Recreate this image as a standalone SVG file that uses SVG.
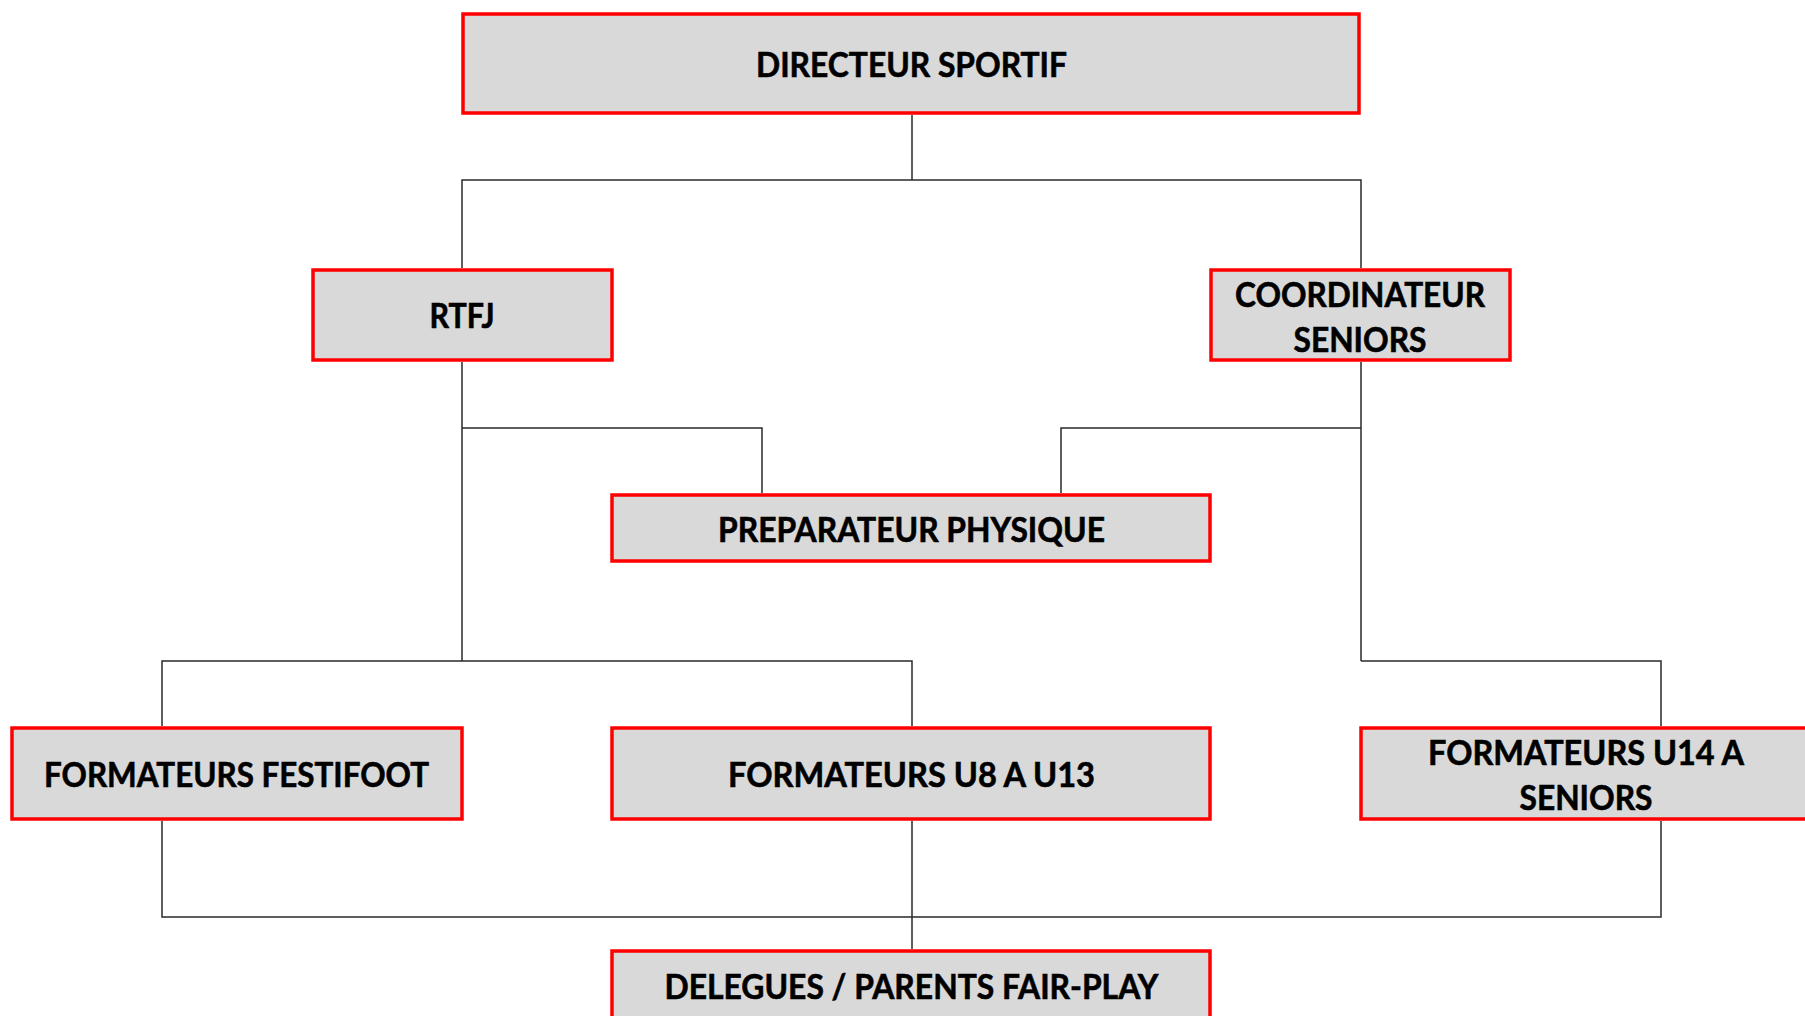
<svg xmlns="http://www.w3.org/2000/svg" width="1805" height="1016" viewBox="0 0 1805 1016">
<style>
.box{fill:#d9d9d9;stroke:#ff0000;stroke-width:3.5}
.lbl{font-family:Lato,"Open Sans","Liberation Sans",sans-serif;font-weight:bold;font-size:34px;fill:#000;stroke:#000;stroke-width:0.6;text-anchor:middle}
.con{fill:none;stroke:#2a2a2a;stroke-width:1.5}
</style>
<rect width="1805" height="1016" fill="#fff"/>
<g id="connectors">
<path class="con" d="M912 115 V180 M462 268 V180 H1361 V268"/>
<path class="con" d="M462 362 V661 M462 428 H762 V493 M1361 362 V661 M1361 428 H1061 V493"/>
<path class="con" d="M162 726 V661 H912 V726 M1361 661 H1661 V726"/>
<path class="con" d="M162 821 V917 H1661 V821 M912 821 V949"/>
</g>
<g id="directeur">
<rect class="box" x="463" y="14" width="896" height="99"/>
<text class="lbl" x="911.5" y="77" textLength="311" lengthAdjust="spacingAndGlyphs">DIRECTEUR SPORTIF</text>
</g>
<g id="rtfj">
<rect class="box" x="313" y="270" width="299" height="90"/>
<text class="lbl" x="462" y="328" textLength="65" lengthAdjust="spacingAndGlyphs">RTFJ</text>
</g>
<g id="coordinateur">
<rect class="box" x="1211" y="270" width="299" height="90"/>
<text class="lbl" x="1360" y="307" textLength="250" lengthAdjust="spacingAndGlyphs">COORDINATEUR</text>
<text class="lbl" x="1360" y="352" textLength="133" lengthAdjust="spacingAndGlyphs">SENIORS</text>
</g>
<g id="preparateur">
<rect class="box" x="612" y="495" width="598" height="66"/>
<text class="lbl" x="911.5" y="542" textLength="387" lengthAdjust="spacingAndGlyphs">PREPARATEUR PHYSIQUE</text>
</g>
<g id="festifoot">
<rect class="box" x="12" y="728" width="450" height="91"/>
<text class="lbl" x="236.5" y="787" textLength="385" lengthAdjust="spacingAndGlyphs">FORMATEURS FESTIFOOT</text>
</g>
<g id="u8u13">
<rect class="box" x="612" y="728" width="598" height="91"/>
<text class="lbl" x="911.5" y="787" textLength="367" lengthAdjust="spacingAndGlyphs">FORMATEURS U8 A U13</text>
</g>
<g id="u14seniors">
<rect class="box" x="1361" y="728" width="500" height="91"/>
<text class="lbl" x="1586" y="765" textLength="316" lengthAdjust="spacingAndGlyphs">FORMATEURS U14 A</text>
<text class="lbl" x="1586" y="810" textLength="133" lengthAdjust="spacingAndGlyphs">SENIORS</text>
</g>
<g id="delegues">
<rect class="box" x="612" y="951" width="598" height="100"/>
<text class="lbl" x="911.5" y="999" textLength="494" lengthAdjust="spacingAndGlyphs">DELEGUES / PARENTS FAIR-PLAY</text>
</g>
</svg>
